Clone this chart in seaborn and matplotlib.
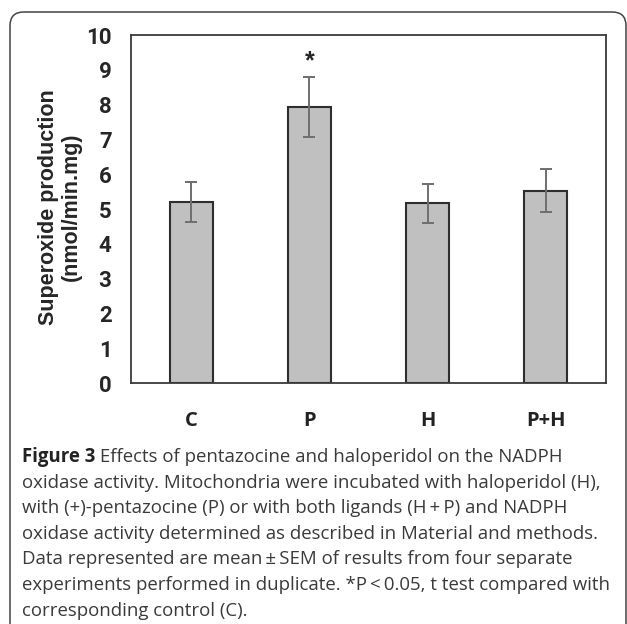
import matplotlib
matplotlib.use("Agg")
import matplotlib.pyplot as plt
from matplotlib import font_manager
from matplotlib.patches import FancyBboxPatch
import seaborn as sns

# data
groups = ["C", "P", "H", "P+H"]
means = [5.2, 7.93, 5.17, 5.52]
sems = [0.58, 0.87, 0.56, 0.62]
sig = [False, True, False, False]

caption_head = "Figure 3"
caption_lines = [
    " Effects of pentazocine and haloperidol on the NADPH",
    "oxidase activity. Mitochondria were incubated with haloperidol (H),",
    "with (+)-pentazocine (P) or with both ligands (H\u2009+\u2009P) and NADPH",
    "oxidase activity determined as described in Material and methods.",
    "Data represented are mean\u2009\u00b1\u2009SEM of results from four separate",
    "experiments performed in duplicate. *P\u2009<\u20090.05, t test compared with",
    "corresponding control (C).",
]

sns.set_style("white")
plt.rcParams["font.family"] = ["Liberation Sans", "DejaVu Sans"]


def have_font(name):
    try:
        font_manager.findfont(name, fallback_to_default=False)
        return True
    except Exception:
        return False


narrow = "Liberation Sans Narrow" if have_font("Liberation Sans Narrow") else "Roboto"

fig = plt.figure(figsize=(6.27, 6.24), dpi=100)
ax = fig.add_axes([0.2089, 0.3862, 0.7576, 0.5577])

sns.barplot(x=groups, y=means, color="#c0c0c0", edgecolor="#2e2e2e",
            linewidth=1.5, width=0.36, saturation=1, ax=ax)
ax.errorbar(range(len(groups)), means, yerr=sems, fmt="none",
            ecolor="#6e6e6e", elinewidth=1.4, capsize=4, capthick=1.4)

for i, s in enumerate(sig):
    if s:
        ax.text(i, means[i] + sems[i] + 0.45, "*", ha="center", va="center",
                fontsize=18, fontweight="heavy")

ax.set_ylim(0, 10)
ax.set_xlim(-0.51, 3.51)
ax.set_yticks(range(0, 11))
ax.tick_params(axis="y", length=0, pad=14, labelsize=16)
ax.tick_params(axis="x", length=0, pad=20, labelsize=14.5)
for lab in ax.get_yticklabels():
    lab.set_fontweight("bold")
    lab.set_family([narrow, "DejaVu Sans"])
for lab in ax.get_xticklabels():
    lab.set_fontweight("bold")
    lab.set_family(["Open Sans", "DejaVu Sans"])
    lab.set_color("#222222")
ax.set_xlabel("")
ax.set_ylabel("")
for sp in ax.spines.values():
    sp.set_color("#3a3a3a")
    sp.set_linewidth(1.3)

fig.text(60 / 627, 1 - 207 / 624, "Superoxide production\n(nmol/min.mg)",
         rotation=90, ha="center", va="center", multialignment="center",
         fontsize=15.5, fontweight="bold", linespacing=1.15)

# outer rounded frame
frame = FancyBboxPatch((10 / 627, -0.1), 616 / 627, 1 - 12 / 624 + 0.1,
                       boxstyle="round,pad=0,rounding_size=0.022",
                       transform=fig.transFigure, fill=False,
                       edgecolor="#444444", linewidth=1.1)
fig.patches.append(frame)

# caption
cap_font = ["Open Sans", "DejaVu Sans"]
x0 = 22 / 627
y_first = 1 - 457 / 624
dy = 25.6 / 624
head = fig.text(x0, y_first, caption_head, fontsize=13.4, fontweight="bold",
                family=cap_font, va="center", color="#222222")
r = fig.canvas.get_renderer()
bb = head.get_window_extent(renderer=r)
x_after = bb.x1 / fig.bbox.width
for k, line in enumerate(caption_lines):
    xx = x_after if k == 0 else x0
    fig.text(xx, y_first - k * dy, line, fontsize=13.4, family=cap_font,
             va="center", color="#3a3a3a")

fig.savefig("out.png", dpi=100)
